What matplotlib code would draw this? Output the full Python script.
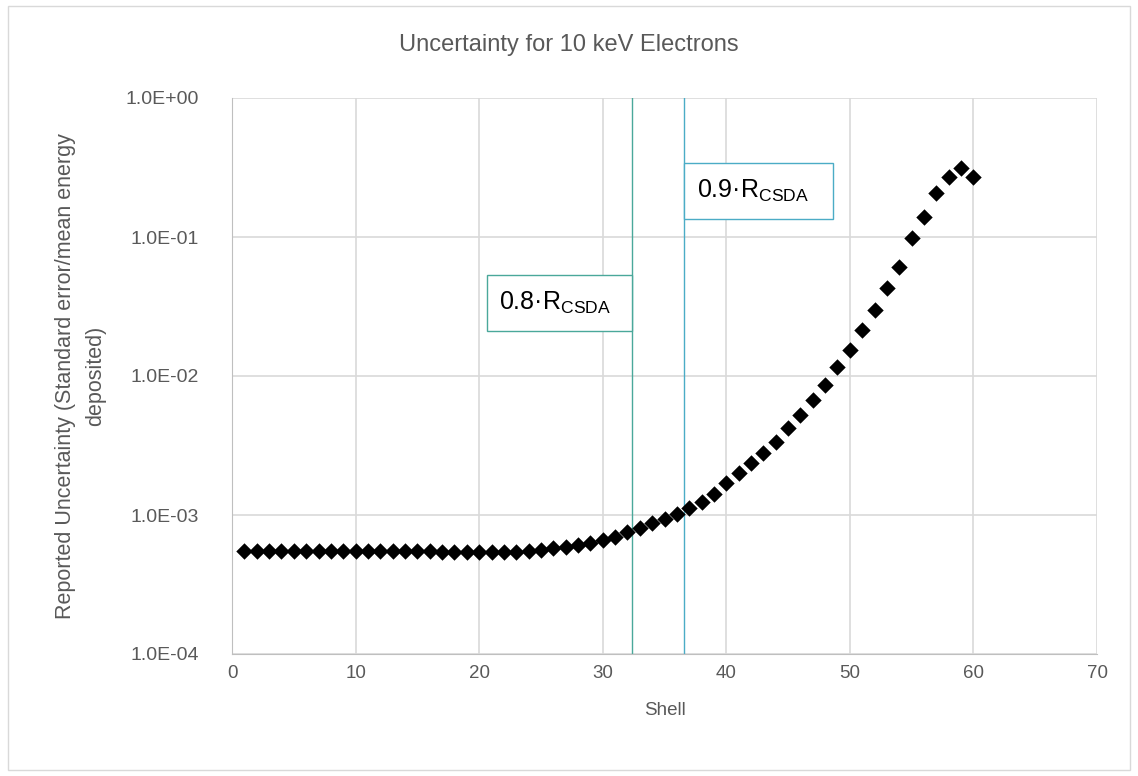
import numpy as np
import matplotlib
matplotlib.use("Agg")
import matplotlib.pyplot as plt
from matplotlib.patches import Rectangle
from matplotlib.ticker import FixedLocator, FuncFormatter, NullLocator

plt.rcParams['font.family'] = ['Liberation Sans', 'DejaVu Sans']
plt.rcParams['mathtext.default'] = 'regular'

# data
shell = np.arange(1, 61)
uncertainty = [
    5.5e-4, 5.5e-4, 5.5e-4, 5.5e-4, 5.5e-4, 5.5e-4, 5.5e-4, 5.5e-4, 5.5e-4, 5.5e-4,
    5.5e-4, 5.5e-4, 5.5e-4, 5.5e-4, 5.5e-4, 5.5e-4, 5.4e-4, 5.4e-4, 5.4e-4, 5.4e-4,
    5.4e-4, 5.4e-4, 5.4e-4, 5.5e-4, 5.6e-4, 5.8e-4, 5.9e-4, 6.1e-4, 6.3e-4, 6.6e-4,
    7.0e-4, 7.5e-4, 8.1e-4, 8.7e-4, 9.4e-4, 1.02e-3, 1.12e-3, 1.24e-3, 1.42e-3, 1.70e-3,
    2.0e-3, 2.37e-3, 2.8e-3, 3.35e-3, 4.2e-3, 5.2e-3, 6.7e-3, 8.6e-3, 1.16e-2, 1.54e-2,
    2.14e-2, 3.0e-2, 4.3e-2, 6.1e-2, 9.8e-2, 1.39e-1, 2.07e-1, 2.7e-1, 3.13e-1, 2.7e-1,
]
range_lines = [32.4, 36.6]
range_labels = ['0.8·R$_{CSDA}$', '0.9·R$_{CSDA}$']
range_colors = ['#4aa89a', '#4bacc6']
y_ticks = [1e-4, 1e-3, 1e-2, 1e-1, 1e0]
x_ticks = [0, 10, 20, 30, 40, 50, 60, 70]

grey = '#595959'

fig = plt.figure(figsize=(11.38, 7.76), dpi=100)
ax = fig.add_axes([232/1138, 1-654/776, (1097-232)/1138, (654-98)/776])

ax.set_yscale('log')
ax.set_xlim(0, 70)
ax.set_ylim(1e-4, 1e0)

ax.grid(True, color='#d9d9d9', lw=1.2)
ax.set_axisbelow(True)

ax.scatter(shell, uncertainty, marker='D', s=70, color='black', zorder=3, linewidths=0)

for xv, col in zip(range_lines, range_colors):
    ax.axvline(xv, color=col, lw=1.0, zorder=2)

# label boxes next to the range lines
boxes = [(20.6, 32.4, 0.0211, 0.0533), (36.6, 48.6, 0.135, 0.34)]
for (x0, x1, y0, y1), lab, col in zip(boxes, range_labels, range_colors):
    ax.add_patch(Rectangle((x0, y0), x1 - x0, y1 - y0, facecolor='white',
                           edgecolor=col, lw=1.0, zorder=4))
    ax.text(x0 + 1.0, np.sqrt(y0 * y1), lab, fontsize=18, color='black',
            va='center', ha='left', zorder=5)

ax.yaxis.set_major_locator(FixedLocator(y_ticks))
ax.yaxis.set_minor_locator(NullLocator())
ax.yaxis.set_major_formatter(FuncFormatter(
    lambda v, p: '1.0E' + ('+' if v >= 1 else '-') + '%02d' % abs(int(round(np.log10(v))))))
ax.xaxis.set_major_locator(FixedLocator(x_ticks))

for s in ['top', 'right']:
    ax.spines[s].set_visible(False)
for s in ['left', 'bottom']:
    ax.spines[s].set_color('#bfbfbf')
ax.tick_params(axis='y', length=0, labelsize=14, colors=grey, pad=24)
ax.tick_params(axis='x', length=0, labelsize=13.5, colors=grey, pad=8)

fig.text(0.5, 1 - 45/776, 'Uncertainty for 10 keV Electrons', fontsize=17, color=grey,
         ha='center', va='center')
ax.set_xlabel('Shell', fontsize=13.5, color=grey, labelpad=14)
ax.set_ylabel('Reported Uncertainty (Standard error/mean energy\ndeposited)',
              fontsize=15.5, color=grey, labelpad=14, linespacing=1.55)

fig.patches.append(Rectangle((8/1138, 6/776), 1122/1138, 764/776, transform=fig.transFigure,
                             fill=False, edgecolor='#d9d9d9', lw=1.0))

fig.savefig('out.png', dpi=100)
